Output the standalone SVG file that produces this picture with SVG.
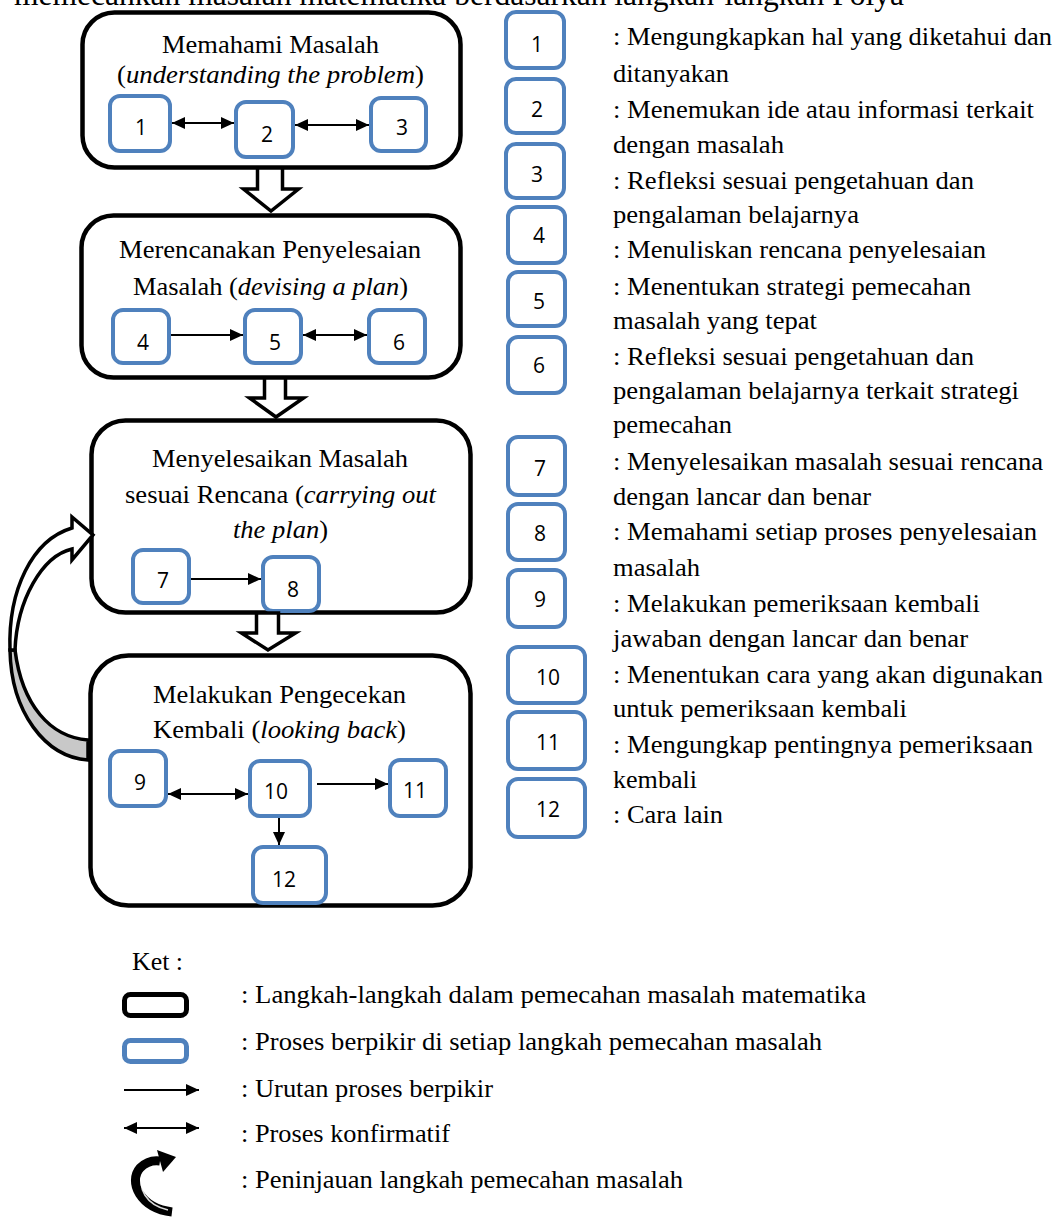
<svg xmlns="http://www.w3.org/2000/svg" width="1057" height="1220" viewBox="0 0 1057 1220">
<defs>
<style>
.step{fill:#fff;stroke:#000;stroke-width:4.5}
.proc{fill:#fff;stroke:#4F81BD;stroke-width:4}
.num{font-family:"Open Sans","Liberation Sans",sans-serif;font-size:21px;text-anchor:middle;fill:#000}
.t{font-family:"Liberation Serif","Times New Roman",serif;font-size:25px;fill:#000}
.i{font-style:italic}
.ln{stroke:#000;stroke-width:2;fill:none}
.block{fill:#fff;stroke:#000;stroke-width:3.5;stroke-linejoin:miter}
</style>
<marker id="ah" markerWidth="13" markerHeight="12" refX="13" refY="6" orient="auto-start-reverse" markerUnits="userSpaceOnUse"><path d="M0,0 L13,6 L0,12 Z" fill="#000"/></marker>
</defs>
<rect width="1057" height="1220" fill="#fff"/>
<text class="t" x="14" y="5" style="font-size:31px" textLength="890" lengthAdjust="spacingAndGlyphs">memecahkan masalah matematika berdasarkan langkah-langkah Polya</text>

<g id="step1">
<rect class="step" x="82.5" y="12.5" width="378" height="155" rx="32"/>
<text class="t" x="162" y="53" textLength="217" lengthAdjust="spacingAndGlyphs">Memahami Masalah</text>
<text class="t" x="117" y="83" textLength="307" lengthAdjust="spacingAndGlyphs">(<tspan class="i">understanding the problem</tspan>)</text>
</g>
<g id="step2">
<rect class="step" x="81.5" y="215.5" width="379" height="162" rx="32"/>
<text class="t" x="119" y="258" textLength="302" lengthAdjust="spacingAndGlyphs">Merencanakan Penyelesaian</text>
<text class="t" x="133" y="295" textLength="275" lengthAdjust="spacingAndGlyphs">Masalah (<tspan class="i">devising a plan</tspan>)</text>
</g>
<g id="step3">
<rect class="step" x="91.5" y="420.5" width="379" height="192" rx="34"/>
<text class="t" x="152" y="467" textLength="256" lengthAdjust="spacingAndGlyphs">Menyelesaikan Masalah</text>
<text class="t" x="125" y="503" textLength="311" lengthAdjust="spacingAndGlyphs">sesuai Rencana (<tspan class="i">carrying out</tspan></text>
<text class="t" x="233" y="538" textLength="95" lengthAdjust="spacingAndGlyphs"><tspan class="i">the plan</tspan>)</text>
</g>
<g id="step4">
<rect class="step" x="90.5" y="655.5" width="380" height="250" rx="38"/>
<text class="t" x="153" y="703" textLength="253" lengthAdjust="spacingAndGlyphs">Melakukan Pengecekan</text>
<text class="t" x="153" y="738" textLength="253" lengthAdjust="spacingAndGlyphs">Kembali (<tspan class="i">looking back</tspan>)</text>
</g>

<g id="n1"><rect class="proc" x="110" y="96" width="60" height="55" rx="10"/><text class="num" x="141" y="135">1</text></g>
<g id="n2"><rect class="proc" x="236" y="102" width="57" height="55" rx="10"/><text class="num" x="267" y="142">2</text></g>
<g id="n3"><rect class="proc" x="371" y="98" width="55" height="53" rx="10"/><text class="num" x="402" y="135">3</text></g>
<g id="n4"><rect class="proc" x="113" y="310" width="56" height="53" rx="10"/><text class="num" x="143" y="350">4</text></g>
<g id="n5"><rect class="proc" x="245" y="310" width="56" height="53" rx="10"/><text class="num" x="275" y="350">5</text></g>
<g id="n6"><rect class="proc" x="369" y="310" width="56" height="53" rx="10"/><text class="num" x="399" y="350">6</text></g>
<g id="n7"><rect class="proc" x="133" y="550" width="56" height="53" rx="10"/><text class="num" x="163" y="588">7</text></g>
<g id="n8"><rect class="proc" x="263" y="557" width="56" height="54" rx="10"/><text class="num" x="293" y="597">8</text></g>
<g id="n9"><rect class="proc" x="110" y="751" width="56" height="55" rx="10"/><text class="num" x="140" y="790">9</text></g>
<g id="n10"><rect class="proc" x="250" y="761" width="60" height="55" rx="10"/><text class="num" x="276" y="799">10</text></g>
<g id="n11"><rect class="proc" x="390" y="760" width="56" height="56" rx="10"/><text class="num" x="415" y="798">11</text></g>
<g id="n12"><rect class="proc" x="253" y="847" width="73" height="56" rx="10"/><text class="num" x="284" y="887">12</text></g>

<g id="connectors">
<line class="ln" x1="172" y1="123" x2="234" y2="123" marker-start="url(#ah)" marker-end="url(#ah)"/>
<line class="ln" x1="295" y1="125" x2="369" y2="125" marker-start="url(#ah)" marker-end="url(#ah)"/>
<line class="ln" x1="171" y1="335" x2="243" y2="335" marker-end="url(#ah)"/>
<line class="ln" x1="303" y1="335" x2="367" y2="335" marker-start="url(#ah)" marker-end="url(#ah)"/>
<line class="ln" x1="191" y1="579" x2="261" y2="579" marker-end="url(#ah)"/>
<line class="ln" x1="168" y1="794" x2="248" y2="794" marker-start="url(#ah)" marker-end="url(#ah)"/>
<line class="ln" x1="317" y1="784" x2="388" y2="784" marker-end="url(#ah)"/>
<line class="ln" x1="279" y1="818" x2="279" y2="845" marker-end="url(#ah)"/>
<polygon class="block" points="257.5,168 282.5,168 282.5,189 298.5,189 271,211 243.5,189 257.5,189"/>
<polygon class="block" points="264.5,378 285.5,378 285.5,398 303.5,398 276,417 249.5,398 264.5,398"/>
<polygon class="block" points="256.5,613 278.5,613 278.5,633 295.5,633 268,650 241.5,633 256.5,633"/>
<path d="M10 650 C11 712 45 757 88 760 L88 740 C50 737 22 705 15 650 Z" fill="#c8c8c8" stroke="#000" stroke-width="3.5"/>
<path d="M10 650 C8 590 32 540 72 528 L72 517 L93 535 L72 560 L72 549 C42 556 17 600 15 650 Z" fill="#fff" stroke="#000" stroke-width="3.5" stroke-linejoin="miter"/>
</g>

<g id="legend-nums">
<g id="k1"><rect class="proc" x="506" y="12" width="58" height="56" rx="10"/><text class="num" x="537" y="52">1</text></g>
<g id="k2"><rect class="proc" x="506" y="79" width="58" height="54" rx="10"/><text class="num" x="537" y="117">2</text></g>
<g id="k3"><rect class="proc" x="506" y="144" width="58" height="54" rx="10"/><text class="num" x="537" y="182">3</text></g>
<g id="k4"><rect class="proc" x="508" y="207" width="57" height="56" rx="10"/><text class="num" x="539" y="243">4</text></g>
<g id="k5"><rect class="proc" x="508" y="272" width="57" height="54" rx="10"/><text class="num" x="539" y="309">5</text></g>
<g id="k6"><rect class="proc" x="508" y="337" width="57" height="56" rx="10"/><text class="num" x="539" y="373">6</text></g>
<g id="k7"><rect class="proc" x="508" y="437" width="57" height="58" rx="10"/><text class="num" x="540" y="476">7</text></g>
<g id="k8"><rect class="proc" x="508" y="504" width="57" height="56" rx="10"/><text class="num" x="540" y="541">8</text></g>
<g id="k9"><rect class="proc" x="508" y="570" width="57" height="57" rx="10"/><text class="num" x="540" y="607">9</text></g>
<g id="k10"><rect class="proc" x="508" y="647" width="77" height="56" rx="10"/><text class="num" x="548" y="685">10</text></g>
<g id="k11"><rect class="proc" x="508" y="712" width="77" height="57" rx="10"/><text class="num" x="548" y="750">11</text></g>
<g id="k12"><rect class="proc" x="508" y="779" width="77" height="58" rx="10"/><text class="num" x="548" y="817">12</text></g>
</g>

<g id="legend-texts">
<text class="t" x="613" y="45" textLength="439" lengthAdjust="spacingAndGlyphs">: Mengungkapkan hal yang diketahui dan</text>
<text class="t" x="613" y="82" textLength="116" lengthAdjust="spacingAndGlyphs">ditanyakan</text>
<text class="t" x="613" y="118" textLength="421" lengthAdjust="spacingAndGlyphs">: Menemukan ide atau informasi terkait</text>
<text class="t" x="613" y="153" textLength="171" lengthAdjust="spacingAndGlyphs">dengan masalah</text>
<text class="t" x="613" y="189" textLength="361" lengthAdjust="spacingAndGlyphs">: Refleksi sesuai pengetahuan dan</text>
<text class="t" x="613" y="223" textLength="246" lengthAdjust="spacingAndGlyphs">pengalaman belajarnya</text>
<text class="t" x="613" y="258" textLength="373" lengthAdjust="spacingAndGlyphs">: Menuliskan rencana penyelesaian</text>
<text class="t" x="613" y="295" textLength="358" lengthAdjust="spacingAndGlyphs">: Menentukan strategi pemecahan</text>
<text class="t" x="613" y="329" textLength="204" lengthAdjust="spacingAndGlyphs">masalah yang tepat</text>
<text class="t" x="613" y="365" textLength="361" lengthAdjust="spacingAndGlyphs">: Refleksi sesuai pengetahuan dan</text>
<text class="t" x="613" y="399" textLength="406" lengthAdjust="spacingAndGlyphs">pengalaman belajarnya terkait strategi</text>
<text class="t" x="613" y="433" textLength="119" lengthAdjust="spacingAndGlyphs">pemecahan</text>
<text class="t" x="613" y="470" textLength="430" lengthAdjust="spacingAndGlyphs">: Menyelesaikan masalah sesuai rencana</text>
<text class="t" x="613" y="505" textLength="258" lengthAdjust="spacingAndGlyphs">dengan lancar dan benar</text>
<text class="t" x="613" y="540" textLength="424" lengthAdjust="spacingAndGlyphs">: Memahami setiap proses penyelesaian</text>
<text class="t" x="613" y="576" textLength="87" lengthAdjust="spacingAndGlyphs">masalah</text>
<text class="t" x="613" y="612" textLength="367" lengthAdjust="spacingAndGlyphs">: Melakukan pemeriksaan kembali</text>
<text class="t" x="613" y="647" textLength="355" lengthAdjust="spacingAndGlyphs">jawaban dengan lancar dan benar</text>
<text class="t" x="613" y="683" textLength="430" lengthAdjust="spacingAndGlyphs">: Menentukan cara yang akan digunakan</text>
<text class="t" x="613" y="717" textLength="294" lengthAdjust="spacingAndGlyphs">untuk pemeriksaan kembali</text>
<text class="t" x="613" y="753" textLength="420" lengthAdjust="spacingAndGlyphs">: Mengungkap pentingnya pemeriksaan</text>
<text class="t" x="613" y="788" textLength="84" lengthAdjust="spacingAndGlyphs">kembali</text>
<text class="t" x="613" y="823" textLength="110" lengthAdjust="spacingAndGlyphs">: Cara lain</text>
</g>

<g id="key">
<text class="t" x="132" y="970" textLength="51" lengthAdjust="spacingAndGlyphs">Ket :</text>
<rect x="124.5" y="994.5" width="62" height="21" rx="6" fill="#fff" stroke="#000" stroke-width="5"/>
<text class="t" x="241" y="1003" textLength="625" lengthAdjust="spacingAndGlyphs">: Langkah-langkah dalam pemecahan masalah matematika</text>
<rect x="124.5" y="1040.5" width="62" height="21" rx="6" fill="#fff" stroke="#4F81BD" stroke-width="5"/>
<text class="t" x="241" y="1050" textLength="581" lengthAdjust="spacingAndGlyphs">: Proses berpikir di setiap langkah pemecahan masalah</text>
<line class="ln" x1="124" y1="1090" x2="199" y2="1090" marker-end="url(#ah)"/>
<text class="t" x="241" y="1097" textLength="252" lengthAdjust="spacingAndGlyphs">: Urutan proses berpikir</text>
<line class="ln" x1="124" y1="1128" x2="199" y2="1128" marker-start="url(#ah)" marker-end="url(#ah)"/>
<text class="t" x="241" y="1142" textLength="209" lengthAdjust="spacingAndGlyphs">: Proses konfirmatif</text>
<path d="M172 1212 C140 1208 128 1182 140 1168 C146 1162 153 1160 160 1161" stroke="#000" stroke-width="9" fill="none"/>
<polygon points="157,1150 176,1157 163,1172" fill="#000"/>
<path d="M168 1210 C146 1205 137 1188 143 1173" stroke="#fff" stroke-width="1.5" fill="none" opacity="0.85"/>
<text class="t" x="241" y="1188" textLength="442" lengthAdjust="spacingAndGlyphs">: Peninjauan langkah pemecahan masalah</text>
</g>
</svg>
